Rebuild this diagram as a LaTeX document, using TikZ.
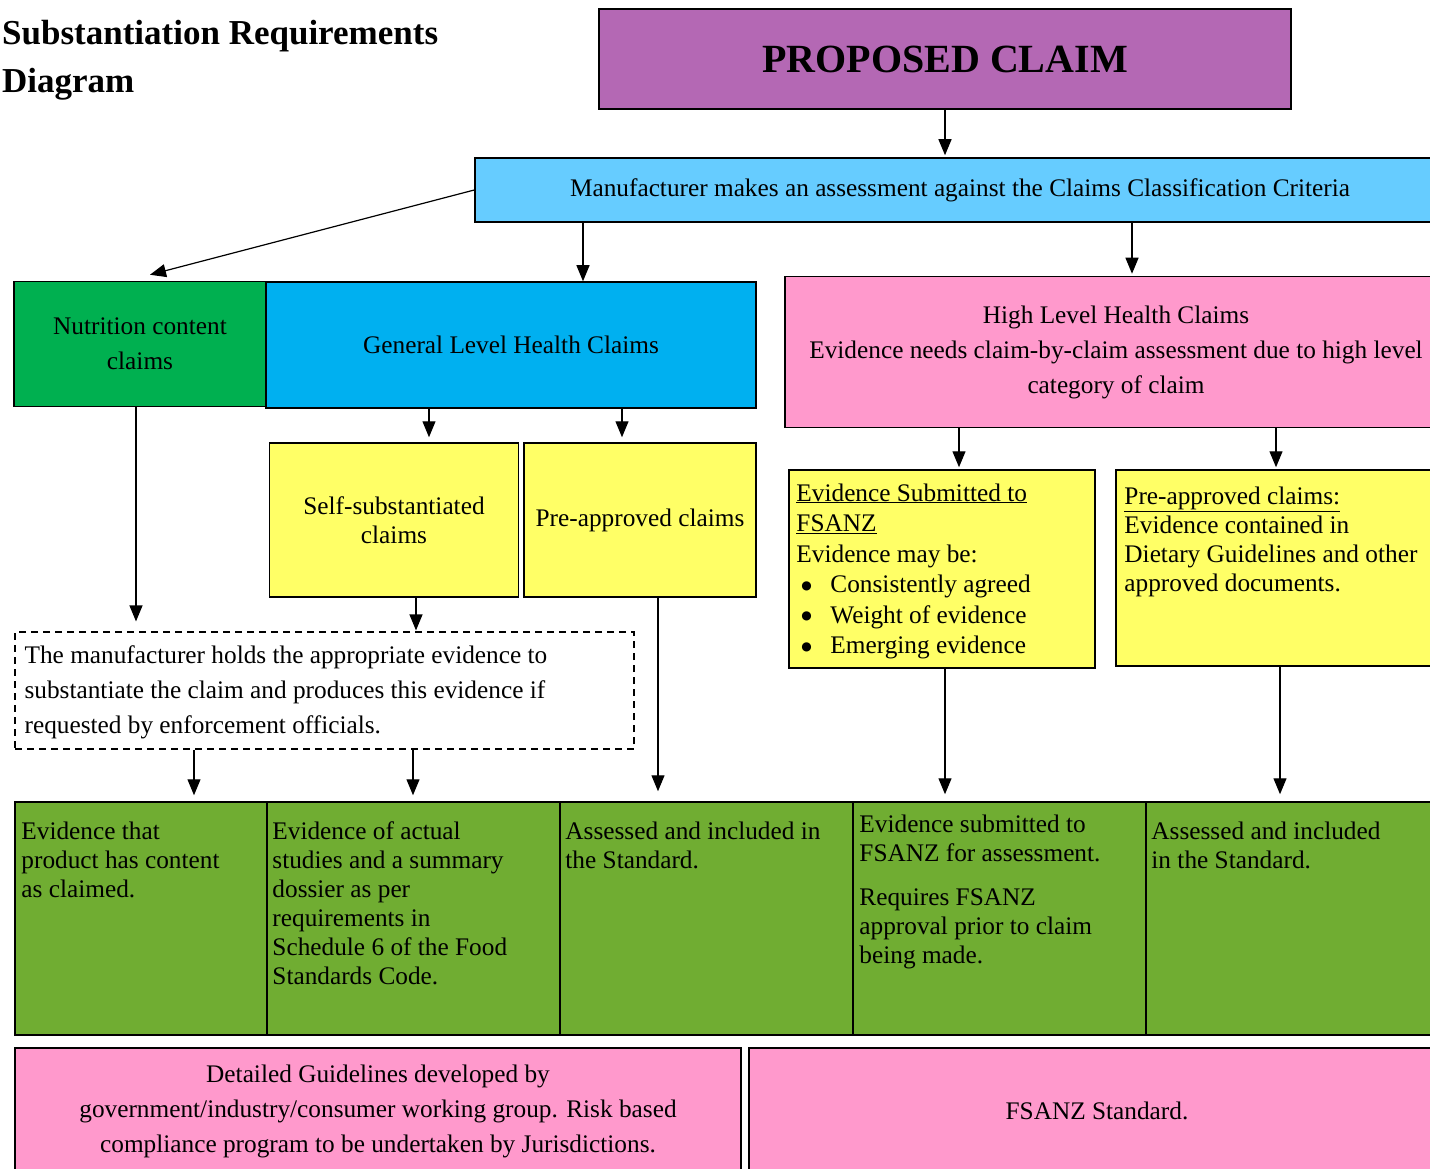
\documentclass[tikz,border=0pt]{standalone}
\usepackage{fontspec}
\setmainfont{Liberation Serif}
\newfontfamily\symfont{DejaVu Sans}
\usetikzlibrary{arrows.meta,calc,positioning}
\definecolor{claimpurple}{RGB}{180,104,180}
\definecolor{assessblue}{RGB}{102,204,255}
\definecolor{nutrgreen}{RGB}{0,176,80}
\definecolor{generalblue}{RGB}{0,176,240}
\definecolor{highpink}{RGB}{255,153,204}
\definecolor{evidyellow}{RGB}{255,255,102}
\definecolor{resultgreen}{RGB}{112,173,50}
\newcommand{\evbullet}{\hspace*{5pt}\makebox[29pt][l]{\raisebox{3.5pt}{\symfont\fontsize{12}{12}\selectfont ●}}}

\begin{document}
\begin{tikzpicture}[x=1pt,y=-1pt,
  box/.style={draw,line width=1.5pt,inner sep=0pt,align=center,font=\fontsize{25.3}{35}\selectfont},
  arr/.style={-{Triangle[length=16pt,width=13pt]},line width=1.2pt},
  boxtext/.style={anchor=north west,align=left,inner sep=0pt,font=\fontsize{25.3}{29}\selectfont}]
\useasboundingbox (0,0) rectangle (1430,1169);
\clip (0,0) rectangle (1430,1169);

\node[anchor=north west,align=left,inner sep=0pt,font=\bfseries\fontsize{35}{48}\selectfont] (title) at (2,20) {Substantiation Requirements\\Diagram};

\node[box,fill=claimpurple,minimum width=692,minimum height=100,font=\bfseries\fontsize{40}{48}\selectfont] (claim) at (945,59) {PROPOSED CLAIM};
\node[box,fill=assessblue,minimum width=970,minimum height=64] (assess) at (960,190) {Manufacturer makes an assessment against the Claims Classification Criteria};

\node[box,fill=nutrgreen,minimum width=252,minimum height=125] (nutr) at (140,344) {Nutrition content\\claims};
\node[box,fill=generalblue,minimum width=490,minimum height=126] (glhc) at (511,345) {General Level Health Claims};
\node[box,fill=highpink,minimum width=662,minimum height=151] (hlhc) at (1116,352) {High Level Health Claims\\Evidence needs claim-by-claim assessment due to high level\\category of claim};

\node[box,fill=evidyellow,minimum width=249,minimum height=154,font=\fontsize{25.3}{29}\selectfont] (selfsub) at (394,520) {Self-substantiated\\claims};
\node[box,fill=evidyellow,minimum width=232,minimum height=154] (preapp) at (640,520) {Pre-approved claims};
\node[box,fill=evidyellow,minimum width=306,minimum height=198] (evsub) at (942,569) {};
\node[box,fill=evidyellow,minimum width=334,minimum height=196] (hlpre) at (1283,568) {};
\node[boxtext,font=\fontsize{25.3}{30.5}\selectfont] (evsubtxt) at ([xshift=8pt,yshift=-14pt]evsub.north west)
  {\underline{Evidence Submitted to}\\\underline{FSANZ}\\Evidence may be:\\
   \evbullet Consistently agreed\\
   \evbullet Weight of evidence\\
   \evbullet Emerging evidence};
\node[boxtext] (hlpretxt) at ([xshift=9pt,yshift=-17pt]hlpre.north west)
  {\underline{Pre-approved claims:}\\Evidence contained in\\Dietary Guidelines and other\\approved documents.};

\node[box,dashed,dash pattern=on 7pt off 5pt,line width=1.2pt,fill=white,minimum width=619,minimum height=117] (holds) at (324.5,690.5) {};
\node[boxtext,font=\fontsize{25.3}{35}\selectfont] (holdstxt) at ([xshift=10pt,yshift=-14pt]holds.north west)
  {The manufacturer holds the appropriate evidence to\\substantiate the claim and produces this evidence if\\requested by enforcement officials.};

\node[box,fill=resultgreen,minimum width=252,minimum height=233] (g1) at (141,918.5) {};
\node[box,fill=resultgreen,minimum width=293,minimum height=233] (g2) at (413.5,918.5) {};
\node[box,fill=resultgreen,minimum width=293,minimum height=233] (g3) at (706.5,918.5) {};
\node[box,fill=resultgreen,minimum width=293,minimum height=233] (g4) at (999.5,918.5) {};
\node[box,fill=resultgreen,minimum width=304,minimum height=233] (g5) at (1298,918.5) {};
\node[boxtext] (g1txt) at ([xshift=7pt,yshift=-20pt]g1.north west) {Evidence that\\product has content\\as claimed.};
\node[boxtext] (g2txt) at ([xshift=6pt,yshift=-20pt]g2.north west) {Evidence of actual\\studies and a summary\\dossier as per\\requirements in\\Schedule 6 of the Food\\Standards Code.};
\node[boxtext] (g3txt) at ([xshift=6pt,yshift=-20pt]g3.north west) {Assessed and included in\\the Standard.};
\node[boxtext] (g4txt) at ([xshift=7pt,yshift=-13pt]g4.north west) {Evidence submitted to\\FSANZ for assessment.\\[15pt]Requires FSANZ\\approval prior to claim\\being made.};
\node[boxtext] (g5txt) at ([xshift=6pt,yshift=-20pt]g5.north west) {Assessed and included\\in the Standard.};

\node[box,fill=highpink,minimum width=726,minimum height=126] (guide) at (378,1111) {Detailed Guidelines developed by\\government/industry/consumer working group. Risk based\\compliance program to be undertaken by Jurisdictions.};
\node[box,fill=highpink,minimum width=696,minimum height=126] (std) at (1097,1111) {FSANZ Standard.};

\draw[arr,shorten >=2pt] (claim.south) -- (claim.south |- assess.north);
\draw[arr] (assess.west) -- ([xshift=10pt,yshift=6pt]nutr.north);
\draw[arr] ([xshift=72pt]glhc.north |- assess.south) -- ([xshift=72pt]glhc.north);
\draw[arr,shorten >=2pt] ([xshift=16pt]hlhc.north |- assess.south) -- ([xshift=16pt]hlhc.north);
\draw[arr,shorten >=5pt] ([xshift=35pt]selfsub.north |- glhc.south) -- ([xshift=35pt]selfsub.north);
\draw[arr,shorten >=5pt] ([xshift=-18pt]preapp.north |- glhc.south) -- ([xshift=-18pt]preapp.north);
\draw[arr,shorten >=2pt] ([xshift=17pt]evsub.north |- hlhc.south) -- ([xshift=17pt]evsub.north);
\draw[arr,shorten >=2pt] ([xshift=-7pt]hlpre.north |- hlhc.south) -- ([xshift=-7pt]hlpre.north);
\draw[arr,shorten >=10pt] ([xshift=-4pt]nutr.south) -- ([xshift=-4pt]nutr.south |- holds.north);
\draw[arr,shorten >=1pt] ([xshift=22pt]selfsub.south) -- ([xshift=22pt]selfsub.south |- holds.north);
\draw[arr,shorten >=6pt] ([xshift=53pt]g1.north |- holds.south) -- ([xshift=53pt]g1.north);
\draw[arr,shorten >=6pt] ([xshift=-0.5pt]g2.north |- holds.south) -- ([xshift=-0.5pt]g2.north);
\draw[arr,shorten >=10pt] ([xshift=18pt]preapp.south) -- ([xshift=18pt]preapp.south |- g3.north);
\draw[arr,shorten >=7pt] ([xshift=3pt]evsub.south) -- ([xshift=3pt]evsub.south |- g4.north);
\draw[arr,shorten >=7pt] ([xshift=-3pt]hlpre.south) -- ([xshift=-3pt]hlpre.south |- g5.north);
\end{tikzpicture}
\end{document}
